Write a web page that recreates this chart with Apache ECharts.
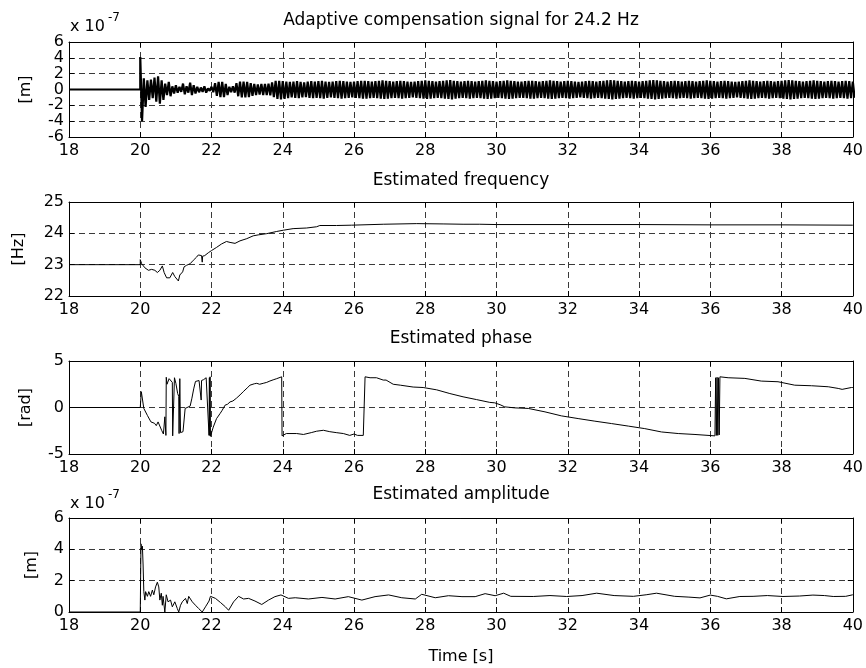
<!DOCTYPE html>
<html><head><meta charset="utf-8">
<script src="https://cdn.jsdelivr.net/npm/echarts@6/dist/echarts.min.js"></script>
<style>html,body{margin:0;padding:0;background:#fff}#c{width:866px;height:668px}</style>
</head><body><div id="c"></div>
<script>
// ---------- data ----------
const xMin = 18, xMax = 40, xStep = 2;

// Top panel: oscillation envelope peaks (x 1e-7 m), one upper and one lower peak per sample
const envStart = 20, envStep = 0.1;
const sigUpper = [
 4.1,1.4,1.15,1.25,1.5,1.65,1.15,0.75,0.95,0.4,
 0.55,0.33,0.75,0.4,0.85,0.55,0.35,0.25,0.4,0.12,
 0.35,0.8,0.95,0.95,0.7,0.35,0.4,0.8,1.0,1.0,
 0.95,0.8,0.7,0.65,0.7,0.7,0.75,0.9,1.1,1.1,
 1.05,1.0,0.95,1.0,1.05,0.95,0.9,1.0,1.05,1.0,
 1.05,1.1,1.0,0.95,1.0,1.05,1.1,1.05,1.0,0.95,
 1.0,1.05,1.1,1.1,1.05,1.0,1.05,1.1,1.15,1.1,
 1.05,1.0,1.05,1.1,1.05,1.0,0.95,1.0,1.05,1.1,
 1.15,1.1,1.05,1.0,1.05,1.1,1.15,1.2,1.1,1.05,
 1.0,1.05,1.1,1.05,1.0,1.05,1.1,1.15,1.1,1.05,
 1.0,1.05,1.1,1.15,1.1,1.05,1.0,1.0,1.05,1.1,
 1.1,1.05,1.0,1.05,1.1,1.15,1.1,1.05,1.0,1.05,
 1.1,1.05,1.0,0.95,1.0,1.05,1.1,1.05,1.0,1.05,
 1.1,1.15,1.2,1.15,1.1,1.05,1.0,1.05,1.1,1.05,
 1.0,1.05,1.1,1.15,1.2,1.15,1.1,1.05,1.0,1.05,
 1.1,1.05,1.0,1.05,1.1,1.05,1.0,1.05,1.1,1.15,
 1.1,1.05,1.0,1.05,1.1,1.05,1.0,0.95,1.0,1.05,
 1.1,1.15,1.1,1.05,1.0,1.05,1.1,1.05,1.0,1.05,
 1.1,1.15,1.2,1.15,1.1,1.05,1.0,1.05,1.1,1.15,
 1.1,1.05,1.0,1.05,1.1,1.05,1.0,1.05,1.1,1.05,
 1.0
];
const sigLower = [
 4.0,2.2,1.3,1.1,1.55,1.8,1.3,0.7,0.85,0.5,
 0.4,0.3,0.6,0.4,0.7,0.5,0.35,0.3,0.4,0.15,
 0.35,0.8,0.95,0.95,0.7,0.35,0.4,0.85,1.0,1.0,
 0.95,0.8,0.7,0.65,0.7,0.7,0.75,0.95,1.2,1.25,
 1.2,1.1,1.0,1.05,1.1,1.0,0.95,1.05,1.1,1.05,
 1.1,1.15,1.05,1.0,1.05,1.1,1.15,1.1,1.05,1.0,
 1.05,1.1,1.15,1.15,1.1,1.05,1.1,1.15,1.2,1.15,
 1.1,1.05,1.1,1.15,1.1,1.05,1.0,1.05,1.1,1.15,
 1.2,1.15,1.1,1.05,1.1,1.15,1.2,1.25,1.15,1.1,
 1.05,1.1,1.15,1.1,1.05,1.1,1.15,1.2,1.15,1.1,
 1.05,1.1,1.15,1.2,1.15,1.1,1.05,1.05,1.1,1.15,
 1.15,1.1,1.05,1.1,1.15,1.2,1.15,1.1,1.05,1.1,
 1.15,1.1,1.05,1.0,1.05,1.1,1.15,1.1,1.05,1.1,
 1.15,1.2,1.25,1.2,1.15,1.1,1.05,1.1,1.15,1.1,
 1.05,1.1,1.15,1.2,1.25,1.2,1.15,1.1,1.05,1.1,
 1.15,1.1,1.05,1.1,1.15,1.1,1.05,1.1,1.15,1.2,
 1.15,1.1,1.05,1.1,1.15,1.1,1.05,1.0,1.05,1.1,
 1.15,1.2,1.15,1.1,1.05,1.1,1.15,1.1,1.05,1.1,
 1.15,1.2,1.25,1.2,1.15,1.1,1.05,1.1,1.15,1.2,
 1.15,1.1,1.05,1.1,1.15,1.1,1.05,1.1,1.15,1.1,
 1.05
];

// Estimated frequency [Hz]
const freqT = [18,20,20.0,20.04,20.13,20.23,20.32,20.41,20.48,20.55,20.62,20.67,20.74,20.83,20.91,20.97,21.02,21.07,21.11,21.16,21.19,21.23,21.30,21.40,21.49,21.58,21.63,21.68,21.72,21.74,21.75,21.77,21.81,21.91,22.0,22.14,22.28,22.42,22.52,22.66,22.80,22.99,23.17,23.31,23.55,23.83,24.02,24.29,24.67,24.95,25.04,25.51,25.93,25.98,26.82,27.76,28.50,29.06,29.53,30.0,32,34,36,38,40];
const freqV = [23,23,23.16,23.03,22.9,22.82,22.85,22.82,22.75,22.82,22.96,22.75,22.58,22.58,22.75,22.62,22.56,22.48,22.67,22.72,22.77,22.93,22.98,23.03,23.14,23.24,23.31,23.26,23.29,23.08,23.27,23.24,23.29,23.38,23.45,23.55,23.66,23.74,23.71,23.68,23.76,23.83,23.92,23.95,23.99,24.06,24.1,24.15,24.17,24.21,24.25,24.25,24.26,24.28,24.29,24.31,24.3,24.29,24.29,24.28,24.28,24.28,24.27,24.27,24.26];

// Estimated phase [rad]
const phaseT = [18,20,20.03,20.1,20.2,20.3,20.4,20.45,20.5,20.6,20.65,20.69,20.71,20.72,20.73,20.75,20.78,20.81,20.85,20.9,20.91,20.95,20.96,21.0,21.05,21.08,21.09,21.11,21.13,21.2,21.26,21.3,21.4,21.45,21.5,21.55,21.6,21.65,21.7,21.71,21.72,21.78,21.85,21.9,21.93,21.94,21.95,21.96,21.97,22.05,22.14,22.24,22.3,22.38,22.45,22.52,22.6,22.7,22.8,22.89,23.0,23.08,23.2,23.27,23.35,23.45,23.55,23.64,23.75,23.83,23.97,23.98,24.1,24.39,24.58,24.8,24.95,25.14,25.32,25.5,25.7,25.88,26.0,26.1,26.26,26.31,26.45,26.63,26.82,26.9,27.1,27.3,27.66,27.94,28.32,28.69,29.06,29.44,29.81,29.95,30.1,30.23,30.51,30.89,31.36,31.82,32.29,32.76,33.23,33.7,34.16,34.63,35.1,35.57,36.13,36.15,36.17,36.19,36.21,36.23,36.25,36.27,36.31,36.5,36.97,37.43,37.9,38.37,38.84,39.31,39.59,39.7,39.96,40];
const phaseV = [0,0,1.7,-0.1,-0.85,-1.55,-1.7,-1.95,-1.55,-2.45,-2.85,-1.0,-1.1,-3.0,3.25,2.5,2.3,3.1,3.25,2.7,-3.05,-3.0,3.2,2.6,1.5,1.2,-2.8,3.1,-2.7,-2.6,-0.1,0.0,0.15,1.0,2.0,2.8,2.85,2.9,2.8,0.8,2.9,3.0,3.2,3.3,-3.0,3.2,-3.0,3.3,-3.1,-2.1,-1.2,-0.65,-0.3,0.25,0.35,0.6,0.7,1.0,1.35,1.7,2.1,2.4,2.55,2.6,2.5,2.6,2.7,2.85,3.0,3.1,3.3,-3.05,-2.8,-2.8,-2.9,-2.7,-2.55,-2.45,-2.6,-2.7,-2.8,-3.0,-2.85,-3.0,-3.0,3.3,3.2,3.2,2.95,2.95,2.5,2.4,2.2,2.15,1.9,1.5,1.15,0.85,0.55,0.5,0.3,0.07,-0.04,-0.1,-0.47,-0.9,-1.19,-1.47,-1.73,-2.0,-2.27,-2.63,-2.8,-2.9,-3.05,3.2,-3.0,3.25,-3.0,3.2,-2.95,3.3,3.3,3.2,3.13,2.84,2.77,2.4,2.34,2.23,2.05,1.95,2.15,2.15];

// Estimated amplitude (x 1e-7 m)
const ampT = [18,20,20.02,20.04,20.06,20.08,20.1,20.13,20.15,20.2,20.24,20.29,20.34,20.38,20.43,20.48,20.52,20.55,20.59,20.62,20.64,20.69,20.73,20.78,20.85,20.9,20.97,21.04,21.08,21.13,21.18,21.27,21.32,21.36,21.46,21.55,21.64,21.74,21.83,21.93,21.97,22.11,22.25,22.39,22.48,22.62,22.76,22.9,23.04,23.22,23.41,23.6,23.78,23.95,24.16,24.35,24.72,25.1,25.47,25.84,26.22,26.59,26.97,27.34,27.72,27.9,28.28,28.65,29.03,29.4,29.68,29.96,30.2,30.4,31.03,31.5,31.97,32.4,32.81,33.3,33.84,34.2,34.49,35.0,35.4,35.71,36.0,36.2,36.45,36.83,37.2,37.6,38.04,38.5,38.88,39.2,39.45,39.8,40];
const ampV = [0,0,4.35,4.0,4.2,3.0,1.3,0.76,1.3,1.0,1.3,1.0,1.4,1.1,1.6,1.9,1.6,0.76,1.2,0.43,1.0,0.0,1.1,0.65,0.76,0.33,0.65,0.22,0.0,0.43,0.65,0.87,0.54,1.0,0.65,0.43,0.22,0.0,0.33,0.7,1.0,0.87,0.61,0.33,0.11,0.65,1.0,0.83,0.87,0.7,0.48,0.76,0.98,1.09,0.87,0.91,0.83,0.93,0.83,0.98,0.76,0.98,1.09,0.91,0.83,1.13,0.91,1.04,0.98,0.98,1.17,1.04,1.2,1.0,0.99,1.05,0.99,1.05,1.2,1.05,1.0,1.1,1.2,1.0,0.95,0.9,1.08,1.0,0.84,0.99,1.0,1.05,0.99,1.02,1.08,1.05,0.99,1.0,1.1];

const titles = ['Adaptive compensation signal for 24.2 Hz','Estimated frequency','Estimated phase','Estimated amplitude'];
const yNames = ['[m]','[Hz]','[rad]','[m]'];
const yMins = [-6,22,-5,0], yMaxs = [6,25,5,6], ySteps = [2,1,5,2];
const xLabel = 'Time [s]';

// ---------- chart ----------
const FONT = 'DejaVu Sans';
const FS = 16;
const grids = [
  {left:69, width:784, top:42, height:95},
  {left:69, width:784, top:202, height:94},
  {left:69, width:784, top:361, height:93},
  {left:69, width:784, top:518, height:94}
];
const nameGaps = [35, 42, 35, 29];
const titleY = [12, 172, 330, 486];
const lineWidths = [2.2, 1, 1, 1];

const topData = [[xMin,0],[envStart,0]];
for (let i = 0; i < sigUpper.length; i++) {
  const t = envStart + i*envStep;
  topData.push([t, sigUpper[i]]);
  topData.push([t + envStep/2, -sigLower[i]]);
}
const zip = (a,b) => a.map((v,i)=>[v,b[i]]);
const seriesData = [topData, zip(freqT,freqV), zip(phaseT,phaseV), zip(ampT,ampV)];

const xAxes = [], yAxes = [], series = [];
const tickStyle = {show:true, inside:true, length:5, lineStyle:{color:'#000', width:1}};
const lineAx = {show:true, onZero:false, lineStyle:{color:'#000', width:1}};
const split = {show:true, lineStyle:{color:'#3a3a3a', width:1, type:[6,4]}};
for (let i = 0; i < 4; i++) {
  xAxes.push({type:'value', gridIndex:i, min:xMin, max:xMax, interval:xStep, position:'bottom',
    axisLine:lineAx, axisTick:tickStyle, splitLine:split,
    axisLabel:{show:true, interval:0, margin:6, color:'#000', fontFamily:FONT, fontSize:FS, showMinLabel:true, showMaxLabel:true},
    name: i===3 ? xLabel : '', nameLocation:'middle', nameGap:37,
    nameTextStyle:{color:'#000', fontFamily:FONT, fontSize:FS}});
  yAxes.push({type:'value', gridIndex:i, min:yMins[i], max:yMaxs[i], interval:ySteps[i], position:'left',
    axisLine:lineAx, axisTick:tickStyle, splitLine:split,
    axisLabel:{show:true, interval:0, margin:5, color:'#000', fontFamily:FONT, fontSize:FS, lineHeight:14, showMinLabel:true, showMaxLabel:true, hideOverlap:false},
    name:yNames[i], nameLocation:'middle', nameGap:nameGaps[i],
    nameTextStyle:{color:'#000', fontFamily:FONT, fontSize:FS}});
  series.push({type:'line', xAxisIndex:i, yAxisIndex:i, data:seriesData[i], showSymbol:false,
    symbol:'none', lineStyle:{color:'#000', width:lineWidths[i]}, z:3, silent:true});
}
for (let i = 0; i < 4; i++) {
  xAxes.push({type:'value', gridIndex:i, min:xMin, max:xMax, interval:xStep, position:'top',
    axisLine:lineAx, axisTick:tickStyle, splitLine:{show:false}, axisLabel:{show:false}});
  yAxes.push({type:'value', gridIndex:i, min:yMins[i], max:yMaxs[i], interval:ySteps[i], position:'right',
    axisLine:lineAx, axisTick:tickStyle, splitLine:{show:false}, axisLabel:{show:false}});
}

const graphic = titles.map((t,i)=>({type:'text', x:461, y:titleY[i],
  style:{text:t, align:'center', verticalAlign:'top', fill:'#000', font:'17px "'+FONT+'"'}}));
[[27,18],[503.5,495]].forEach(([yb,ys])=>{
  graphic.push({type:'text', x:70, y:yb, style:{text:'x 10', align:'left', verticalAlign:'middle', fill:'#000', font:'16px "'+FONT+'"'}});
  graphic.push({type:'text', x:108, y:ys, style:{text:'-7', align:'left', verticalAlign:'middle', fill:'#000', font:'12px "'+FONT+'"'}});
});

const chart = echarts.init(document.getElementById('c'), null, {renderer:'canvas'});
chart.setOption({
  animation:false, backgroundColor:'#fff',
  grid:grids, xAxis:xAxes, yAxis:yAxes, series:series, graphic:graphic
});
</script></body></html>
